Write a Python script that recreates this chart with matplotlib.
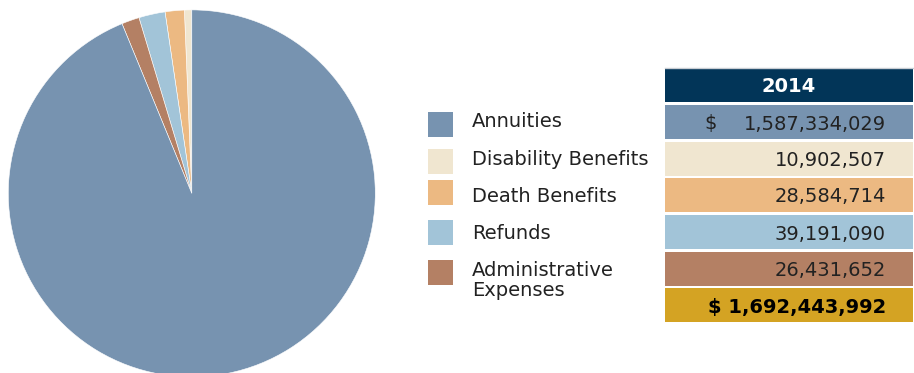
import matplotlib.pyplot as plt
from matplotlib.patches import Rectangle

# data
labels = ["Annuities", "Disability Benefits", "Death Benefits", "Refunds",
          "Administrative\nExpenses"]
values = [1587334029, 10902507, 28584714, 39191090, 26431652]
value_text = ["1,587,334,029", "10,902,507", "28,584,714", "39,191,090", "26,431,652"]
total_text = "$ 1,692,443,992"
year = "2014"
colors = ["#7793b0", "#f0e6d0", "#ecb982", "#a2c4d8", "#b48064"]

W, H = 914, 373
fig = plt.figure(figsize=(W / 100, H / 100), dpi=100)

# pie (drawn counterclockwise from the top, annuities last)
cx, cy, r = 191.8, 193.4, 183.5
pax = fig.add_axes([(cx - r) / W, (H - cy - r) / H, 2 * r / W, 2 * r / H])
order = [1, 2, 3, 4, 0]
pax.pie([values[i] for i in order], colors=[colors[i] for i in order],
        startangle=90, counterclock=True,
        wedgeprops=dict(edgecolor="white", linewidth=0.4))
pax.set_xlim(-1, 1)
pax.set_ylim(-1, 1)
pax.set_aspect("equal")
pax.axis("off")

# legend + table in pixel coords
ax = fig.add_axes([0, 0, 1, 1])
ax.set_xlim(0, W)
ax.set_ylim(H, 0)
ax.axis("off")

fs = 14
txt = "#222222"
box_top = [112, 149, 180, 220, 260]
base_y = [127, 165, 202.5, 239, 276.5]
for i, lab in enumerate(labels):
    ax.add_patch(Rectangle((428, box_top[i]), 25, 25, color=colors[i], lw=0))
    for j, part in enumerate(lab.split("\n")):
        ax.text(472, base_y[i] + 20 * j, part, fontsize=fs, color=txt,
                va="baseline", ha="left")

# table
x0, x1 = 665, 913
ax.add_patch(Rectangle((x0, 68), x1 - x0, 34, color="#023558", lw=0))
ax.plot([x0, x1], [67.5, 67.5], color="#c8cdd3", lw=1)
ax.text((x0 + x1) / 2, 92.5, year, fontsize=fs, color="white", fontweight="bold",
        ha="center", va="baseline")
row_top = [105, 142, 178, 215, 252]
for i, v in enumerate(value_text):
    ax.add_patch(Rectangle((x0, row_top[i]), x1 - x0, 34, color=colors[i], lw=0))
    ax.text(886, row_top[i] + 24.5, v, fontsize=fs, color=txt,
            ha="right", va="baseline")
ax.text(704, row_top[0] + 24.5, "$", fontsize=fs, color=txt,
        ha="left", va="baseline")
ax.add_patch(Rectangle((x0, 288), x1 - x0, 34, color="#d4a323", lw=0))
ax.text(886, 313, total_text, fontsize=fs, color="black", fontweight="bold",
        ha="right", va="baseline")

fig.savefig("out.png", dpi=100)
